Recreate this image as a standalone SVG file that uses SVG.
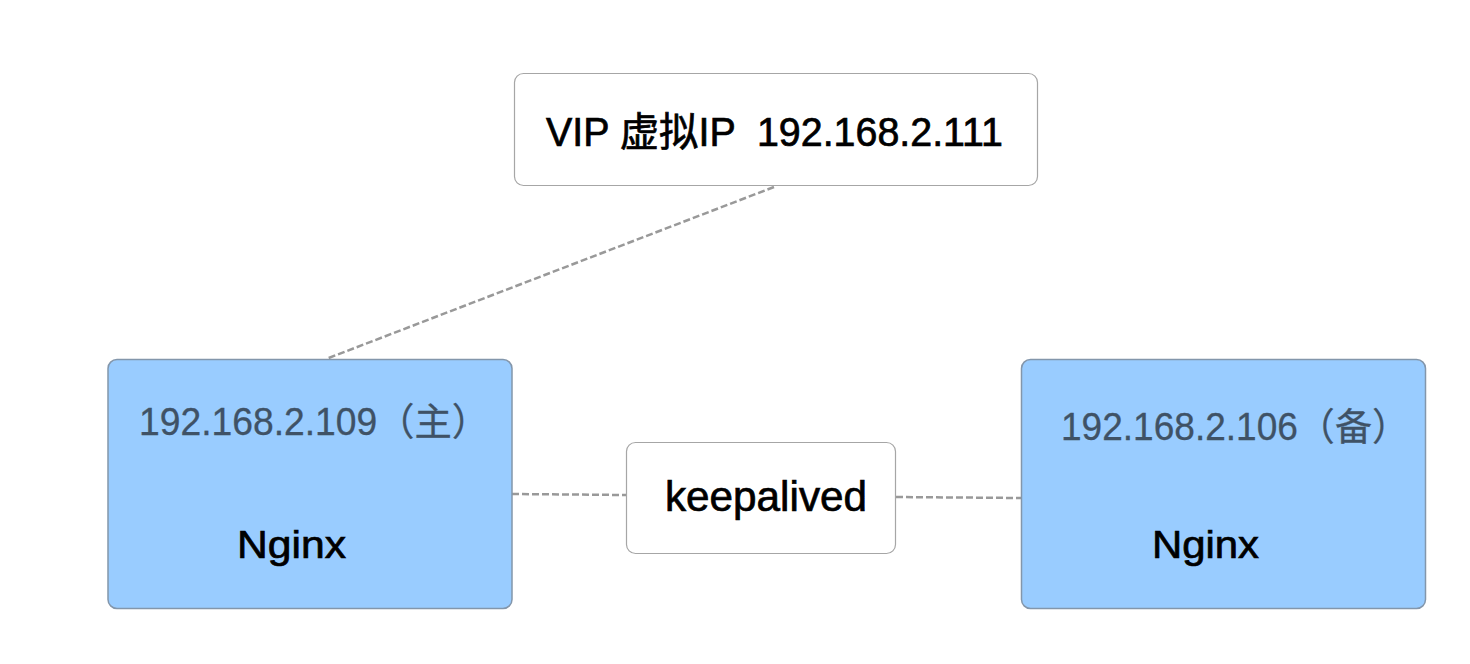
<svg xmlns="http://www.w3.org/2000/svg" width="1470" height="664" viewBox="0 0 1470 664">
<style>
.white{fill:#ffffff;stroke:#a6a6a6;stroke-width:1.2}
.blue{fill:#99ccff;stroke:#8396ab;stroke-width:1.5}
.conn{fill:none;stroke:#999999;stroke-width:2.5;stroke-dasharray:7 3}
.t{font-family:"Liberation Sans","Noto Sans CJK SC",sans-serif;fill:#000000;stroke:#000000;stroke-width:0.7;white-space:pre}
.ip{font-family:"Liberation Sans","Noto Sans CJK SC",sans-serif;fill:#3f5266;stroke:#3f5266;stroke-width:0.3}
</style>
<rect width="1470" height="664" fill="#ffffff"/>
<g id="connectors">
<line class="conn" x1="774" y1="187" x2="326" y2="359"/>
<line class="conn" x1="512" y1="494" x2="626" y2="495"/>
<line class="conn" x1="896" y1="497" x2="1021" y2="498"/>
</g>
<g id="vip">
<rect class="white" x="514.5" y="73.5" width="523" height="112" rx="9"/>
<text class="t" x="546" y="146" font-size="40" textLength="457" lengthAdjust="spacingAndGlyphs" xml:space="preserve">VIP 虚拟IP  192.168.2.111</text>
</g>
<g id="master">
<rect class="blue" x="108" y="359.5" width="404" height="249" rx="9"/>
<text class="ip" x="139" y="435" font-size="38" textLength="350" lengthAdjust="spacingAndGlyphs">192.168.2.109（主）</text>
<text class="t" x="237" y="558" font-size="38" textLength="109" lengthAdjust="spacingAndGlyphs">Nginx</text>
</g>
<g id="keepalived">
<rect class="white" x="626.5" y="442.5" width="269" height="111" rx="9"/>
<text class="t" x="665" y="511" font-size="42" textLength="202" lengthAdjust="spacingAndGlyphs">keepalived</text>
</g>
<g id="backup">
<rect class="blue" x="1021.5" y="359.5" width="404" height="249" rx="9"/>
<text class="ip" x="1061" y="440" font-size="38" textLength="348" lengthAdjust="spacingAndGlyphs">192.168.2.106（备）</text>
<text class="t" x="1152" y="558" font-size="38" textLength="107" lengthAdjust="spacingAndGlyphs">Nginx</text>
</g>
</svg>
